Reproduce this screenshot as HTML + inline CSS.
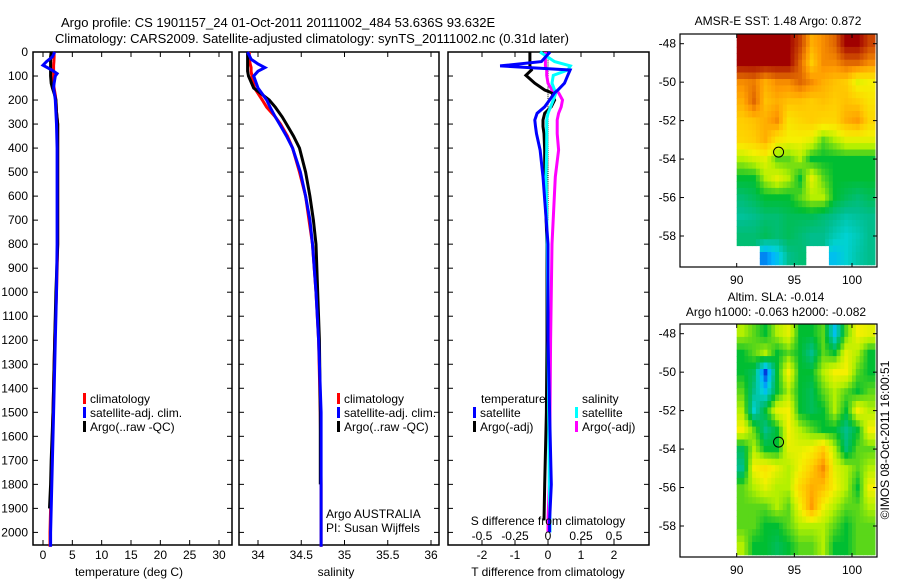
<!DOCTYPE html>
<html><head><meta charset="utf-8"><style>
html,body{margin:0;padding:0;background:#fff;}
svg{display:block;font-family:"Liberation Sans",sans-serif;font-size:12px;}
</style></head><body>
<svg id="fig" width="900" height="580" viewBox="0 0 900 580" xmlns="http://www.w3.org/2000/svg">
<text x="61" y="27" font-size="13">Argo profile: CS 1901157_24 01-Oct-2011 20111002_484 53.636S 93.632E</text>
<text x="55" y="43" font-size="13">Climatology: CARS2009. Satellite-adjusted climatology: synTS_20111002.nc (0.31d later)</text>
<text x="778" y="25" text-anchor="middle">AMSR-E SST: 1.48 Argo: 0.872</text>
<text x="776" y="301" text-anchor="middle">Altim. SLA: -0.014</text>
<text x="776" y="316" text-anchor="middle">Argo h1000: -0.063 h2000: -0.082</text>
<text transform="translate(889,440) rotate(-90)" text-anchor="middle">©IMOS 08-Oct-2011 16:00:51</text>
<g id="g"></g>
</svg>
<script>
// ---- profile data ----
const tDepth = [0,20,40,55,75,90,100,130,150,180,200,250,300,400,500,600,800,1000,1200,1500,1700,1800,1900,2000,2060];
const tClim  = [1.9,1.9,1.85,1.8,1.8,1.8,1.8,1.7,1.9,2.1,2.2,2.3,2.5,2.5,2.5,2.5,2.5,2.3,2.0,1.7,1.5,1.4,1.3,1.2,1.2];
const tSat   = [2.0,1.6,0.6,0.0,1.5,2.4,2.1,1.9,1.8,2.0,2.1,2.2,2.3,2.4,2.4,2.4,2.4,2.3,2.1,1.8,1.6,1.5,1.4,1.3,1.3];
const tArgo  = [1.4,1.3,1.3,1.3,1.3,1.3,1.3,1.4,1.6,2.0,2.2,2.3,2.5,2.5,2.5,2.5,2.5,2.2,2.0,1.7,1.4,1.3,1.1,null,null];
const sDepth = [0,30,50,65,80,100,150,200,230,270,300,350,400,500,600,700,800,1000,1200,1500,1800,2000,2060];
const sClim  = [33.90,33.90,33.91,33.92,33.92,33.93,33.96,34.05,34.10,34.20,34.26,34.34,34.40,34.48,34.55,34.59,34.63,34.67,34.70,34.72,34.73,34.73,34.73];
const sSat   = [33.88,33.92,34.00,34.08,34.00,33.95,34.00,34.10,34.14,34.20,34.25,34.33,34.40,34.49,34.55,34.60,34.63,34.67,34.70,34.73,34.73,34.73,34.73];
const sArgo  = [33.88,33.88,33.88,33.88,33.88,33.89,33.95,34.13,34.20,34.28,34.33,34.41,34.48,34.55,34.60,34.64,34.67,34.69,34.71,34.72,34.72,null,null];
const dDepth = [0,40,58,75,97,130,158,170,200,228,255,283,310,340,408,520,800,1200,1500,1800,1950,2000];
const dTSat  = [0.06,-0.2,-1.45,0.67,0.6,0.5,0.3,0.2,0.05,-0.1,-0.33,-0.4,-0.38,-0.35,-0.24,-0.15,0,0,0.05,0.1,0.05,0.05];
const dTArgo = [-0.55,-0.55,-0.55,-0.5,-0.67,-0.4,-0.1,0.12,0.2,0.1,-0.1,-0.15,-0.15,-0.12,-0.1,-0.1,-0.03,-0.03,-0.05,-0.1,-0.12,null];
const dSSat  = [-0.06,0.05,0.17,0.15,0.04,0.03,0.05,0.06,0.04,0.02,0.0,-0.01,-0.01,-0.01,-0.01,-0.015,-0.005,0.0,0.005,0.01,0.015,0.015];
const dSArgo = [-0.02,-0.02,-0.02,-0.01,-0.01,0.0,0.03,0.08,0.11,0.1,0.08,0.07,0.07,0.07,0.08,0.055,0.03,0.02,0.015,0.01,0.0,0.0];
const depthTicks = [0,100,200,300,400,500,600,700,800,900,1000,1100,1200,1300,1400,1500,1600,1700,1800,1900,2000];
const tTicks = [0,5,10,15,20,25,30];
const sTicks = [34,34.5,35,35.5,36];
const sTickLabels = ["34","34.5","35","35.5","36"];
const dTTicks = [-2,-1,0,1,2];
const dSTicks = [-0.5,-0.25,0,0.25,0.5];
const dSTickLabels = ["-0.5","-0.25","0","0.25","0.5"];
// ---- map data (colour index 0..1), rows lat -48..-59, cols lon 90..101 ----
const mapLats = [-48,-49,-50,-51,-52,-53,-54,-55,-56,-57,-58,-59];
const mapLons = [90,91,92,93,94,95,96,97,98,99,100,101];
const sstGrid = [
[1,1,1,1,1,0.9,0.75,0.8,0.85,1,1,0.9],
[1,1,1,1,1,0.85,0.7,0.8,0.8,0.85,0.85,0.8],
[0.8,0.82,0.75,0.8,0.8,0.85,0.8,0.75,0.72,0.7,0.6,0.62],
[0.75,0.85,0.72,0.75,0.72,0.72,0.7,0.72,0.7,0.72,0.7,0.65],
[0.7,0.72,0.75,0.8,0.65,0.68,0.7,0.68,0.68,0.75,0.78,0.68],
[0.68,0.7,0.75,0.65,0.62,0.62,0.6,0.5,0.55,0.6,0.6,0.6],
[0.55,0.58,0.6,0.5,0.5,0.55,0.45,0.45,0.45,0.45,0.45,0.45],
[0.45,0.45,0.55,0.6,0.55,0.45,0.6,0.5,0.45,0.45,0.45,0.45],
[0.4,0.42,0.45,0.45,0.45,0.5,0.55,0.55,0.45,0.42,0.4,0.42],
[0.37,0.38,0.4,0.4,0.42,0.42,0.42,0.4,0.38,0.36,0.37,0.38],
[0.4,0.4,0.42,0.4,0.42,0.4,0.38,0.38,0.35,0.33,0.35,0.38],
[null,null,0.25,0.3,0.38,0.4,null,null,0.3,0.33,0.36,0.38]];
const slaGrid = [
[0.55,0.5,0.45,0.55,0.6,0.45,0.45,0.5,0.3,0.5,0.62,0.6],
[0.45,0.5,0.55,0.45,0.5,0.45,0.38,0.5,0.45,0.6,0.55,0.45],
[0.45,0.42,0.2,0.45,0.62,0.45,0.45,0.55,0.62,0.62,0.5,0.45],
[0.5,0.38,0.3,0.45,0.55,0.45,0.42,0.5,0.55,0.5,0.45,0.5],
[0.55,0.33,0.45,0.6,0.62,0.45,0.42,0.45,0.55,0.45,0.62,0.55],
[0.62,0.5,0.38,0.45,0.62,0.55,0.5,0.45,0.45,0.38,0.45,0.62],
[0.42,0.55,0.45,0.45,0.6,0.6,0.62,0.7,0.55,0.4,0.5,0.5],
[0.38,0.62,0.65,0.6,0.55,0.62,0.7,0.8,0.6,0.55,0.5,0.55],
[0.5,0.55,0.6,0.55,0.55,0.68,0.75,0.72,0.62,0.55,0.45,0.62],
[0.5,0.5,0.5,0.55,0.5,0.62,0.78,0.62,0.55,0.5,0.5,0.55],
[0.5,0.5,0.45,0.45,0.5,0.55,0.55,0.55,0.5,0.45,0.5,0.5],
[0.55,0.45,0.45,0.42,0.45,0.5,0.5,0.55,0.45,0.45,0.5,0.5]];
const argoLon = 93.632, argoLat = -53.636;
const latTicks = [-48,-50,-52,-54,-56,-58];
const lonTicks = [90,95,100];

const NS="http://www.w3.org/2000/svg";
const G=document.getElementById('g');
function mk(tag,attrs,parent){const e=document.createElementNS(NS,tag);for(const k in attrs)e.setAttribute(k,attrs[k]);(parent||G).appendChild(e);return e;}
function txt(x,y,s,anchor,parent){const e=mk('text',{x:x,y:y,'text-anchor':anchor||'start'},parent);e.textContent=s;return e;}
const Y0=52, Y1=545;
function yD(d){return 52+d*0.2402;}
function lin(v0,p0,v1,p1){return v=>p0+(v-v0)*(p1-p0)/(v1-v0);}

function panel(name,x0,x1){
  const g=mk('g',{});
  
  
  const r=mk('rect',{x:x0,y:Y0,width:x1-x0,height:Y1-Y0,fill:'none',stroke:'#000','stroke-width':1.5},g);
  
  
  depthTicks.forEach(d=>{mk('line',{x1:x0,x2:x0+5,y1:yD(d),y2:yD(d),stroke:'#000'},g);mk('line',{x1:x1,x2:x1-5,y1:yD(d),y2:yD(d),stroke:'#000'},g);});
  return g;
}
function xTicks(g,xs,labels,fx,ly){
  xs.forEach((v,i)=>{const x=fx(v);mk('line',{x1:x,x2:x,y1:Y0,y2:Y0+5,stroke:'#000'},g);mk('line',{x1:x,x2:x,y1:Y1,y2:Y1-5,stroke:'#000'},g);
    if(ly){const t=txt(x,ly,labels[i],'middle',g);}});
}
function series(g,depths,vals,fx,color,name){
  let pts=[];depths.forEach((d,i)=>{if(vals[i]!==null)pts.push(fx(vals[i]).toFixed(1)+','+yD(d).toFixed(1));});
  const p=mk('polyline',{points:pts.join(' '),fill:'none',stroke:color,'stroke-width':3,'stroke-linejoin':'miter'},g);
  
  
}
function legend(g,x,y,color,label,name){
  const r=mk('rect',{x:x,y:y-10,width:3,height:11,fill:color},g);
  
  
  const t=txt(x+7,y,label,'start',g);
  
  
}

// Panel 1: temperature
const p1=panel('temperature-panel',33,232);
const fT=lin(0,43,30,219);
xTicks(p1,tTicks,tTicks.map(String),fT,559);
depthTicks.forEach(d=>{const t=txt(28,yD(d)+4,String(d),'end',p1);});
series(p1,tDepth,tClim,fT,'#ff0000','temp-climatology-line');
series(p1,tDepth,tArgo,fT,'#000000','temp-argo-line');
series(p1,tDepth,tSat,fT,'#0000ff','temp-satellite-line');
legend(p1,83,403,'#ff0000','climatology','legend-climatology');
legend(p1,83,417,'#0000ff','satellite-adj. clim.','legend-satellite-adj');
legend(p1,83,431,'#000000','Argo(..raw -QC)','legend-argo');
let t1=txt(129,576,'temperature (deg C)','middle',p1);

// Panel 2: salinity
const p2=panel('salinity-panel',239,439);
const fS=lin(34,258,36,431);
xTicks(p2,sTicks,sTickLabels,fS,559);
series(p2,sDepth,sClim,fS,'#ff0000','sal-climatology-line');
series(p2,sDepth,sArgo,fS,'#000000','sal-argo-line');
series(p2,sDepth,sSat,fS,'#0000ff','sal-satellite-line');
legend(p2,337,403,'#ff0000','climatology','legend-climatology-sal');
legend(p2,337,417,'#0000ff','satellite-adj. clim.','legend-satellite-adj-sal');
legend(p2,337,431,'#000000','Argo(..raw -QC)','legend-argo-sal');
let a1=txt(326,518,'Argo AUSTRALIA','start',p2);
let a2=txt(326,532,'PI: Susan Wijffels','start',p2);
let t2=txt(336,576,'salinity','middle',p2);

// Panel 3: differences
const p3=panel('difference-panel',448,649);
const fDT=lin(0,548,2,614), fDS=lin(0,548,0.5,614);
xTicks(p3,dTTicks,dTTicks.map(String),fDT,559);
for(let d=0;d<700;d+=8){mk('rect',{x:547.5,y:yD(d),width:1,height:1,fill:'#000'},p3);}
series(p3,dDepth,dTArgo,fDT,'#000000','diff-temp-argo-line');
series(p3,dDepth,dSArgo,fDS,'#ff00ff','diff-sal-argo-line');
series(p3,dDepth,dSSat,fDS,'#00ffff','diff-sal-satellite-line');
series(p3,dDepth,dTSat,fDT,'#0000ff','diff-temp-satellite-line');
let lt=txt(481,403,'temperature','start',p3);
let ls=txt(582,403,'salinity','start',p3);
legend(p3,473,417,'#0000ff','satellite','legend-temp-satellite');
legend(p3,473,431,'#000000','Argo(-adj)','legend-temp-argo');
legend(p3,575,417,'#00ffff','satellite','legend-sal-satellite');
legend(p3,575,431,'#ff00ff','Argo(-adj)','legend-sal-argo');
let sd=txt(548,525,'S difference from climatology','middle',p3);
dSTicks.forEach((v,i)=>{const t=txt(fDS(v),540,dSTickLabels[i],'middle',p3);});
let td=txt(548,576,'T difference from climatology','middle',p3);

// Maps
const palStops=[[0.2,[0,60,220]],[0.28,[0,180,255]],[0.33,[0,210,210]],[0.38,[0,190,140]],[0.45,[0,190,50]],[0.55,[180,240,0]],[0.62,[245,240,0]],[0.7,[255,205,0]],[0.78,[255,155,0]],[0.88,[210,80,0]],[1.0,[160,0,0]]];
function pal(v){
  if(v<=palStops[0][0])return 'rgb('+palStops[0][1].join(',')+')';
  for(let i=1;i<palStops.length;i++){
    if(v<=palStops[i][0]){const a=palStops[i-1],b=palStops[i];const t=(v-a[0])/(b[0]-a[0]);
      return 'rgb('+a[1].map((c,k)=>Math.round(c+(b[1][k]-c)*t)).join(',')+')';}
  }
  return 'rgb(160,0,0)';
}
function sample(grid,r,c){
  const nr=grid.length,nc=grid[0].length;
  r=Math.max(0,Math.min(nr-1,r));c=Math.max(0,Math.min(nc-1,c));
  const r0=Math.floor(r),c0=Math.floor(c),r1=Math.min(nr-1,r0+1),c1=Math.min(nc-1,c0+1);
  const fr=r-r0,fc=c-c0;
  const vals=[[grid[r0][c0],(1-fr)*(1-fc)],[grid[r0][c1],(1-fr)*fc],[grid[r1][c0],fr*(1-fc)],[grid[r1][c1],fr*fc]];
  let s=0,w=0;vals.forEach(([v,wt])=>{if(v!==null){s+=v*wt;w+=wt;}});
  return w>0?s/w:null;
}
function map(name,top,grid){
  const g=mk('g',{});
  
  
  const fx=lin(90,736.7,100,852), fy=lin(-48,top+9.7,-58,top+202);
  const bottom=top+233;
  const cw=fx(91)-fx(90), ch=fy(-49)-fy(-48);
  const SUB=3;
  grid.forEach((row,i)=>row.forEach((v,j)=>{
    if(v===null)return;
    for(let a=0;a<SUB;a++)for(let b=0;b<SUB;b++){
      const rr=i+(a+0.5)/SUB-0.5, cc=j+(b+0.5)/SUB-0.5;
      const val=sample(grid,rr,cc);
      const x=fx(mapLons[j])+b*cw/SUB, y=fy(mapLats[i]+0.5)+a*ch/SUB;
      const w=Math.min(cw/SUB,877-x), h=Math.min(ch/SUB,bottom-y);
      if(w<=0||h<=0)continue;
      const c=mk('rect',{x:x.toFixed(1),y:y.toFixed(1),width:(w+0.5).toFixed(1),height:(h+0.5).toFixed(1),fill:pal(val)},g);
      
      
    }
  }));
  const pt=mk('circle',{cx:fx(argoLon),cy:fy(argoLat),r:5,fill:'none',stroke:'#000','stroke-width':1},g);
  
  
  mk('rect',{x:680,y:top,width:197,height:233,fill:'none',stroke:'#000','stroke-width':1.2},g);
  latTicks.forEach(l=>{const y=fy(l);mk('line',{x1:680,x2:684,y1:y,y2:y,stroke:'#000'},g);mk('line',{x1:877,x2:873,y1:y,y2:y,stroke:'#000'},g);
    const t=txt(676,y+4,String(l),'end',g);});
  lonTicks.forEach(l=>{const x=fx(l);mk('line',{x1:x,x2:x,y1:top,y2:top+4,stroke:'#000'},g);mk('line',{x1:x,x2:x,y1:bottom,y2:bottom-4,stroke:'#000'},g);
    const t=txt(x,bottom+17,String(l),'middle',g);});
}
map('sst-map',34,sstGrid);
map('sla-map',324,slaGrid);
</script>
</body></html>
